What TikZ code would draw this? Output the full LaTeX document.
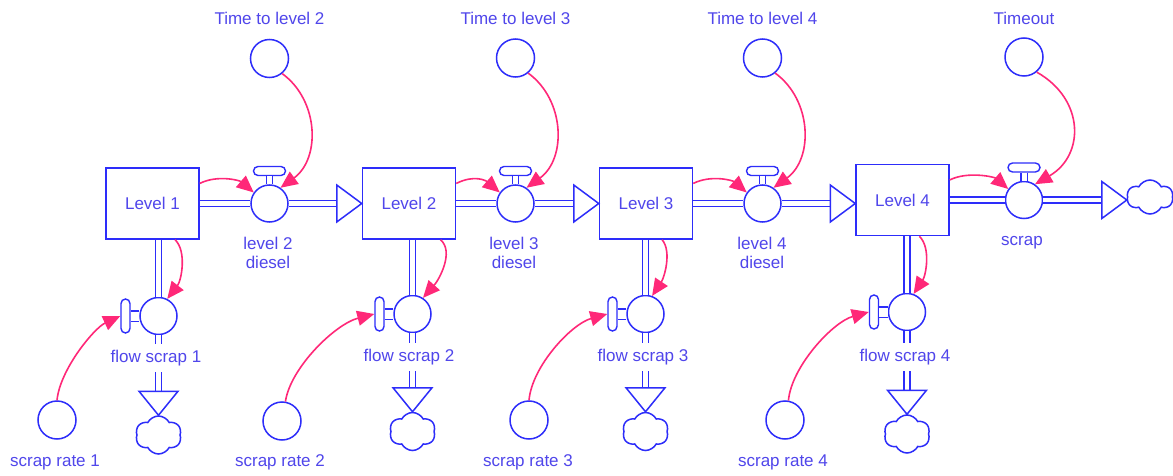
\documentclass[tikz,border=0pt]{standalone}
\usepackage{fontspec}
\setmainfont{Liberation Sans}
\usetikzlibrary{arrows.meta,shapes.symbols}
\definecolor{flowblue}{RGB}{45,45,250}
\definecolor{labelblue}{RGB}{80,70,235}
\definecolor{linkpink}{RGB}{255,40,120}
\begin{document}
\begin{tikzpicture}[x=1pt,y=-1pt,
  every node/.style={font=\fontsize{17}{19}\selectfont, text=labelblue},
  stock/.style={draw=flowblue, line width=1.5pt, fill=white, minimum width=93pt, minimum height=71pt, inner sep=0pt},
  aux/.style={draw=flowblue, line width=1.5pt, circle, fill=white, minimum size=38pt, inner sep=0pt},
  valvebody/.style={draw=flowblue, line width=1.5pt, circle, fill=white, minimum size=37pt, inner sep=0pt},
  hhandle/.style={draw=flowblue, line width=1.4pt, fill=white, rounded corners=4.5pt, minimum width=32pt, minimum height=9pt, inner sep=0pt},
  vhandle/.style={draw=flowblue, line width=1.4pt, fill=white, rounded corners=4.5pt, minimum width=9pt, minimum height=34pt, inner sep=0pt},
  hstem/.style={draw=flowblue, line width=1.3pt, double=white, double distance=5pt},
  vstem/.style={draw=flowblue, line width=1.3pt, double=white, double distance=9pt},
  pipe/.style={draw=flowblue, line width=1.5pt, double=white, double distance=4.5pt},
  openhead/.style={draw=flowblue, line width=1.5pt, fill=white, line join=miter},
  sink/.style={cloud, cloud puffs=6, cloud puff arc=125, aspect=1.25, draw=flowblue, line width=1.5pt, fill=white, minimum width=46pt, minimum height=38pt, inner sep=0pt},
  link/.style={draw=linkpink, line width=1.6pt, -{Triangle[length=17pt,width=15pt]}},
  vlabel/.style={align=center, inner sep=1pt},
  flabel/.style={fill=white, inner xsep=1pt, inner ysep=6.5pt}
]
\fill[white] (0,0) rectangle (1173,476);
\useasboundingbox (0,0) rectangle (1173,476);

% stocks
\node[stock] (L1) at (152.5,203.5) {Level 1};
\node[stock] (L2) at (409,203.5) {Level 2};
\node[stock] (L3) at (646,203.5) {Level 3};
\node[stock] (L4) at (902.5,200) {Level 4};

% converters
\node[aux] (t2) at (269.5,58.5) {};
\node[aux] (t3) at (515.5,58) {};
\node[aux] (t4) at (762.5,58) {};
\node[aux] (tout) at (1024,57) {};
\node[aux] (sr1) at (57,420) {};
\node[aux] (sr2) at (282,421) {};
\node[aux] (sr3) at (529,420) {};
\node[aux] (sr4) at (785,420) {};

\node (lt2) at (269.5,18) {Time to level 2};
\node (lt3) at (515.5,18) {Time to level 3};
\node (lt4) at (762.5,18) {Time to level 4};
\node (ltout) at (1024,18) {Timeout};
\node (lsr1) at (55,462) {scrap rate 1};
\node (lsr2) at (280,462) {scrap rate 2};
\node (lsr3) at (528,462) {scrap rate 3};
\node (lsr4) at (783,462) {scrap rate 4};

% horizontal valves with handles on top
\node[hhandle] (h2) at (269.5,171) {};
\node[hhandle] (h3) at (515.5,171) {};
\node[hhandle] (h4) at (762.5,171) {};
\node[hhandle] (hs) at (1024,167.5) {};
\node[valvebody] (v2) at (269.5,203.5) {};
\node[valvebody] (v3) at (515.5,203.5) {};
\node[valvebody] (v4) at (762.5,203.5) {};
\node[valvebody] (vs) at (1024,200) {};
\draw[hstem] (h2.south) -- (v2.north);
\draw[hstem] (h3.south) -- (v3.north);
\draw[hstem] (h4.south) -- (v4.north);
\draw[hstem] (hs.south) -- (vs.north);

% vertical valves with handles on the left
\node[vhandle] (h1) at (125.5,316) {};
\node[vhandle] (hf2) at (379.5,314) {};
\node[vhandle] (hf3) at (612.5,314) {};
\node[vhandle] (hf4) at (874,312) {};
\node[valvebody] (fs1) at (158.5,316) {};
\node[valvebody] (fs2) at (412.5,314) {};
\node[valvebody] (fs3) at (645.5,314) {};
\node[valvebody] (fs4) at (907,312) {};
\draw[vstem] (h1.east) -- (fs1.west);
\draw[vstem] (hf2.east) -- (fs2.west);
\draw[vstem] (hf3.east) -- (fs3.west);
\draw[vstem] (hf4.east) -- (fs4.west);

% clouds
\node[sink] (c1) at (158.5,435) {};
\node[sink] (c2) at (412.5,431.5) {};
\node[sink] (c3) at (645.5,431.5) {};
\node[sink] (c4) at (907,434) {};
\node[sink, minimum height=34pt] (cs) at (1150,197) {};

% horizontal flows
\draw[pipe] (L1.east) -- (v2.west);
\draw[pipe] (v2.east) -- ([xshift=-24pt]L2.west);
\draw[openhead] (L2.west) -- ++(-25,-18.5) -- ++(0,37) -- cycle;
\draw[pipe] (L2.east) -- (v3.west);
\draw[pipe] (v3.east) -- ([xshift=-24pt]L3.west);
\draw[openhead] (L3.west) -- ++(-25,-18.5) -- ++(0,37) -- cycle;
\draw[pipe] (L3.east) -- (v4.west);
\coordinate (L4in) at (L4.west |- v4.center);
\draw[pipe] (v4.east) -- ([xshift=-24pt]L4in);
\draw[openhead] (L4in) -- ++(-25,-18.5) -- ++(0,37) -- cycle;
\draw[pipe] (L4.east) -- (vs.west);
\coordinate (csin) at (cs.west |- vs.center);
\draw[pipe] (vs.east) -- ([xshift=-24pt]csin);
\draw[openhead] (csin) -- ++(-25,-18.5) -- ++(0,37) -- cycle;

% vertical flows
\draw[pipe] (fs1 |- L1.south) -- (fs1.north);
\draw[pipe] (fs1.south) -- ([yshift=23pt]c1.north);
\draw[openhead] (c1.north) -- ++(-19.5,-24) -- ++(39,0) -- cycle;
\draw[pipe] (fs2 |- L2.south) -- (fs2.north);
\draw[pipe] (fs2.south) -- ([yshift=23pt]c2.north);
\draw[openhead] (c2.north) -- ++(-19.5,-24) -- ++(39,0) -- cycle;
\draw[pipe] (fs3 |- L3.south) -- (fs3.north);
\draw[pipe] (fs3.south) -- ([yshift=23pt]c3.north);
\draw[openhead] (c3.north) -- ++(-19.5,-24) -- ++(39,0) -- cycle;
\draw[pipe] (fs4 |- L4.south) -- (fs4.north);
\draw[pipe] (fs4.south) -- ([yshift=23pt]c4.north);
\draw[openhead] (c4.north) -- ++(-19.5,-24) -- ++(39,0) -- cycle;

% valve labels
\node[vlabel] (lv2) at (268,253) {level 2\\diesel};
\node[vlabel] (lv3) at (514,253) {level 3\\diesel};
\node[vlabel] (lv4) at (762,253) {level 4\\diesel};
\node[vlabel] (lvs) at (1022,243) {scrap};
\node[flabel] (lf1) at (156,358) {flow scrap 1};
\node[flabel] (lf2) at (409,357) {flow scrap 2};
\node[flabel] (lf3) at (643,357) {flow scrap 3};
\node[flabel] (lf4) at (905,357) {flow scrap 4};

% information links: stock to outflow valve
\draw[link] (L1.23) .. controls +(18,-9) and +(-14,-12) .. (v2.145);
\draw[link] (L2.23) .. controls +(18,-9) and +(-14,-12) .. (v3.145);
\draw[link] (L3.23) .. controls +(18,-9) and +(-14,-12) .. (v4.145);
\draw[link] (L4.23) .. controls +(18,-9) and +(-14,-12) .. (vs.145);

% information links: time constants
\draw[link] (t2.-50) .. controls +(37,27) and +(40,-29) .. (v2.55);
\draw[link] (t3.-50) .. controls +(37,27) and +(40,-29) .. (v3.55);
\draw[link] (t4.-50) .. controls +(37,27) and +(40,-29) .. (v4.55);
\draw[link] (tout.-50) .. controls +(48,27) and +(50,-29) .. (vs.55);

% information links: stock to scrap valve
\draw[link] (L1.-58) .. controls +(12,12) and +(14,-18) .. (fs1.63);
\draw[link] (L2.-49) .. controls +(14,12) and +(16,-18) .. (fs2.57);
\draw[link] (L3.-66) .. controls +(10,12) and +(12,-18) .. (fs3.70);
\draw[link] (L4.-65) .. controls +(12,12) and +(12,-18) .. (fs4.70);

% information links: scrap rates
\draw[link] (sr1.north) .. controls +(3,-31) and +(-26,12) .. (h1.west);
\draw[link] (sr2.80) .. controls +(5,-34) and +(-39,10) .. (hf2.west);
\draw[link] (sr3.north) .. controls +(3,-34) and +(-36,10) .. (hf3.west);
\draw[link] (sr4.80) .. controls +(3,-34) and +(-36,10) .. (hf4.west);
\end{tikzpicture}
\end{document}
